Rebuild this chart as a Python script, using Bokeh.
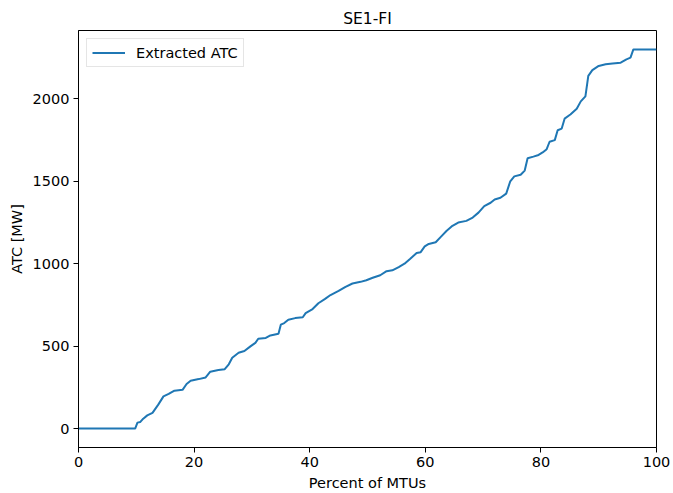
from bokeh.plotting import figure
from bokeh.models import Range1d, FixedTicker, Legend, LegendItem, ColumnDataSource
from bokeh.embed import file_html
from bokeh.resources import INLINE

title = "SE1-FI"
x_label = "Percent of MTUs"
y_label = "ATC [MW]"
series_name = "Extracted ATC"

percent = [0, 9.8, 10.2, 10.7, 11.2, 11.9, 12.8, 13.8, 14.7, 15.6, 16.6, 18.0, 18.7,
           19.4, 20.8, 22.0, 22.8, 24.2, 25.3, 26.0, 26.6, 27.7, 28.7, 29.8, 30.6,
           31.1, 32.4, 33.2, 34.6, 35.0, 35.6, 36.3, 37.5, 38.8, 39.3, 40.5, 41.5,
           42.6, 43.6, 45.0, 46.2, 47.4, 48.8, 49.8, 50.9, 52.2, 53.3, 54.3, 55.4,
           56.4, 57.4, 58.5, 59.2, 59.9, 60.6, 61.8, 62.6, 63.7, 64.7, 65.7, 67.1,
           68.2, 69.2, 70.2, 71.3, 72.0, 73.0, 74.0, 74.7, 75.4, 76.5, 77.2, 77.7,
           78.7, 79.6, 80.3, 81.0, 81.5, 82.4, 82.9, 83.6, 84.1, 85.1, 86.2, 86.9,
           87.7, 88.2, 88.9, 90.0, 91.2, 92.4, 93.8, 94.8, 95.5, 96.0, 100]
atc_mw = [0, 0, 36, 40, 60, 80, 95, 145, 195, 210, 230, 235, 270,
          290, 300, 310, 345, 355, 360, 390, 430, 460, 470, 500, 520,
          545, 550, 565, 575, 630, 640, 660, 670, 675, 700, 725, 760,
          785, 810, 835, 860, 880, 890, 900, 915, 930, 955, 960, 980,
          1000, 1030, 1065, 1070, 1105, 1120, 1130, 1160, 1200, 1230, 1250, 1260,
          1280, 1310, 1350, 1370, 1390, 1400, 1425, 1500, 1530, 1540, 1565, 1640,
          1650, 1660, 1675, 1695, 1740, 1750, 1810, 1820, 1880, 1905, 1940, 1985,
          2015, 2140, 2175, 2200, 2210, 2215, 2220, 2240, 2250, 2300, 2300]

x_ticks = [0, 20, 40, 60, 80, 100]
y_ticks = [0, 500, 1000, 1500, 2000]

FONT = "DejaVu Sans"

p = figure(width=673, height=493, output_backend="svg", toolbar_location=None,
           x_range=Range1d(0, 100), y_range=Range1d(-115, 2415),
           min_border_left=78, min_border_right=17, min_border_top=30, min_border_bottom=46)
p.title.text = title
p.title.align = "center"
p.title.text_font = FONT
p.title.text_font_size = "15.5px"
p.title.text_font_style = "normal"
p.title.text_color = "black"
p.title.standoff = 6

p.xgrid.visible = False
p.ygrid.visible = False
p.background_fill_color = "white"
p.border_fill_color = "white"
p.outline_line_color = "black"
p.outline_line_width = 1
p.outline_line_alpha = 1

for ax in (p.xaxis[0], p.yaxis[0]):
    ax.axis_line_color = "black"
    ax.major_tick_line_color = "black"
    ax.minor_tick_line_color = None
    ax.major_tick_out = 5
    ax.major_tick_in = 0
    ax.major_label_text_font = FONT
    ax.major_label_text_font_size = "14.5px"
    ax.major_label_text_color = "black"
    ax.axis_label_text_font = FONT
    ax.axis_label_text_font_size = "14.5px"
    ax.axis_label_text_font_style = "normal"
    ax.axis_label_text_color = "black"
    ax.major_label_standoff = 4
    ax.axis_label_standoff = 5

p.xaxis[0].ticker = FixedTicker(ticks=x_ticks)
p.yaxis[0].ticker = FixedTicker(ticks=y_ticks)
p.xaxis[0].axis_label = x_label
p.yaxis[0].axis_label = y_label

src = ColumnDataSource(dict(x=percent, y=atc_mw))
r = p.line("x", "y", source=src, line_color="#1f77b4", line_width=2)

legend = Legend(items=[LegendItem(label=series_name, renderers=[r])], location="top_left")
legend.label_text_font = FONT
legend.label_text_font_size = "14.5px"
legend.label_text_color = "black"
legend.border_line_color = "#cccccc"
legend.border_line_width = 1
legend.background_fill_alpha = 0.8
legend.margin = 8
legend.padding = 5
legend.glyph_width = 33
legend.glyph_height = 17
legend.label_standoff = 11
legend.label_height = 17
p.add_layout(legend)

open("out.html", "w").write(file_html(p, INLINE))
